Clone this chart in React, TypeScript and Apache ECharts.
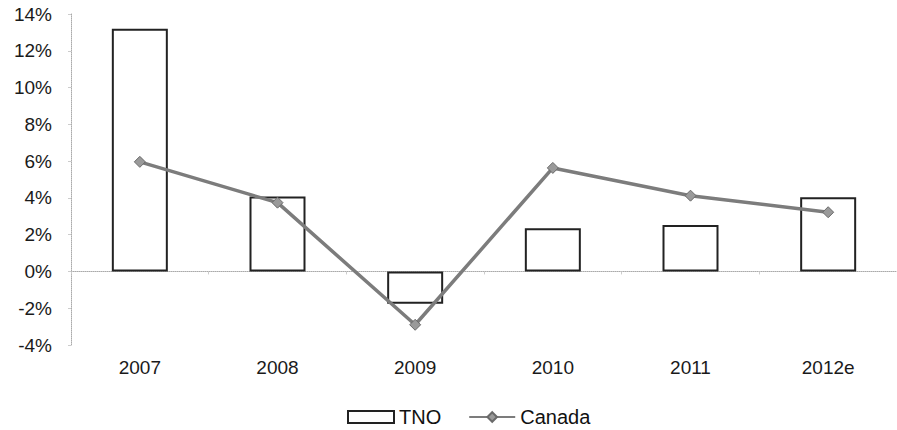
import React, { useEffect, useRef } from "react";
import * as echarts from "echarts";

const categories = ["2007", "2008", "2009", "2010", "2011", "2012e"];
const tnoValues = [13.2, 4.08, -1.76, 2.35, 2.53, 4.04];
const canadaValues = [5.96, 3.74, -2.9, 5.63, 4.12, 3.22];

export default function App() {
  const ref = useRef<HTMLDivElement>(null);
  useEffect(() => {
    if (!ref.current) return;
    const chart = echarts.init(ref.current, null, { renderer: "svg" });
    const font = "'Liberation Sans', Arial, sans-serif";
    chart.setOption({
      animation: false,
      backgroundColor: "#ffffff",
      grid: { left: 71, width: 837, top: 14, bottom: 85, containLabel: false },
      legend: {
        left: 342,
        top: 402,
        itemGap: 27,
        itemWidth: 46,
        itemHeight: 12,
        textStyle: { fontFamily: font, fontSize: 20, color: "#111" },
        data: [{ name: "TNO", icon: "rect" }, { name: "Canada" }],
      },
      xAxis: [
        {
          type: "category",
          data: categories,
          axisLine: { onZero: true, lineStyle: { color: "#aaa", type: "dotted", width: 1 } },
          axisTick: { show: true, length: 3, lineStyle: { color: "#ccc" } },
          axisLabel: { show: false },
        },
        {
          type: "category",
          data: categories,
          position: "bottom",
          axisLine: { show: false, onZero: false },
          axisTick: { show: false },
          axisLabel: { fontFamily: font, fontSize: 19, color: "#1a1a1a", margin: 13 },
        },
      ],
      yAxis: {
        type: "value",
        min: -4,
        max: 14,
        interval: 2,
        axisLine: { show: true, lineStyle: { color: "#aaa", type: "dotted" } },
        axisTick: { show: true, length: 3, lineStyle: { color: "#ccc" } },
        splitLine: { show: false },
        axisLabel: {
          formatter: "{value}%",
          fontFamily: font,
          fontSize: 19,
          color: "#1a1a1a",
          margin: 19,
        },
      },
      series: [
        {
          name: "TNO",
          type: "bar",
          data: tnoValues,
          barWidth: 56,
          itemStyle: { color: "#ffffff", borderColor: "#222", borderWidth: 2 },
        },
        {
          name: "Canada",
          type: "line",
          data: canadaValues,
          symbol: "diamond",
          symbolSize: 11,
          lineStyle: { color: "#7c7c7c", width: 3.5 },
          itemStyle: { color: "#9a9a9a", borderColor: "#6a6a6a", borderWidth: 1 },
          z: 5,
        },
      ],
    });
    return () => chart.dispose();
  }, []);
  return (
    <div
      ref={ref}
      style={{ position: "fixed", left: 0, top: 0, width: 897, height: 430 }}
    />
  );
}
